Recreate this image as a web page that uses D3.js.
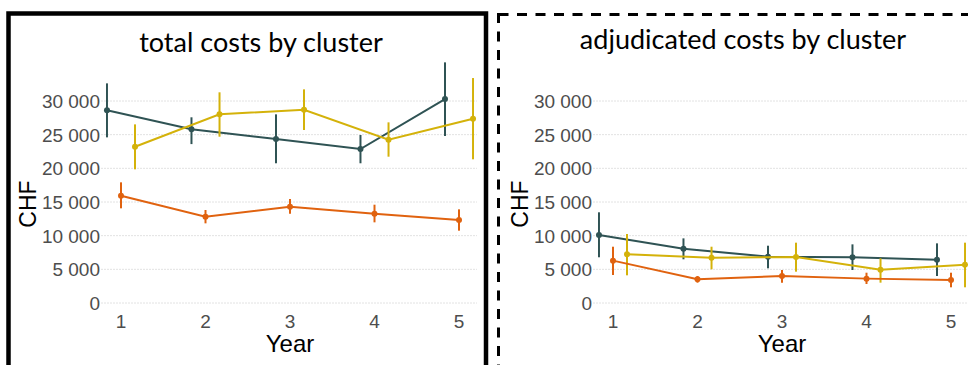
<!DOCTYPE html>
<html>
<head>
<meta charset="utf-8">
<script src="https://cdn.jsdelivr.net/npm/d3@7"></script>
<style>
    body { margin: 0; background: #fff; }
    svg { display: block; }
</style>
</head>
<body>
<svg id="chart"></svg>
<script>
// years on the x axis
const years = [1, 2, 3, 4, 5];
const yTicks = [0, 5000, 10000, 15000, 20000, 25000, 30000];

// total costs by cluster (mean, lower, upper)
const totalDark = [28620, 25800, 24350, 22870, 30290];
const totalDarkLo = [24600, 23600, 20750, 20750, 24800];
const totalDarkHi = [32620, 27580, 28020, 24950, 35740];

const totalOrange = [15940, 12820, 14300, 13260, 12330];
const totalOrangeLo = [14060, 11830, 13260, 11980, 10740];
const totalOrangeHi = [17920, 13810, 15440, 14600, 13910];

const totalYellow = [23210, 28020, 28710, 24250, 27370];
const totalYellowLo = [19850, 24700, 25690, 21730, 21340];
const totalYellowHi = [26530, 31290, 31730, 26830, 33410];

// adjudicated costs by cluster
const adjDark = [10100, 8060, 6880, 6790, 6440];
const adjDarkLo = [6790, 6490, 5150, 4900, 4010];
const adjDarkHi = [13470, 9600, 8510, 8710, 8860];

const adjOrange = [6290, 3520, 4010, 3620, 3420];
const adjOrangeLo = [4160, 3020, 3020, 2820, 2330];
const adjOrangeHi = [8360, 4010, 4900, 4500, 4500];

const adjYellow = [7230, 6730, 6830, 4950, 5690];
const adjYellowLo = [4110, 5000, 4650, 3020, 2330];
const adjYellowHi = [10250, 8360, 8960, 6630, 8960];

const colors = { dark: "#2f5354", orange: "#e0620f", yellow: "#d4b20a" };

const W = 968, H = 365;
const svg = d3.select("#chart").attr("width", W).attr("height", H);

const y = d3.scaleLinear().domain([0, 30000]).range([303, 101]);
const fmt = d => d3.format(",")(d).replace(",", " ");
const dodge = 0.166;

// panel frames
svg.append("rect")
    .attr("x", 8.5).attr("y", 13.5)
    .attr("width", 477.5).attr("height", 400)
    .attr("fill", "none").attr("stroke", "#000").attr("stroke-width", 4.5);

svg.append("rect")
    .attr("x", 498.5).attr("y", 14.5)
    .attr("width", 520).attr("height", 400)
    .attr("fill", "none").attr("stroke", "#000").attr("stroke-width", 3)
    .attr("stroke-dasharray", "10,8.5");

function drawPanel(dx, title, titleX, titleY, gridEnd, series) {
    const g = svg.append("g").attr("transform", `translate(${dx},0)`);
    const x = d3.scaleLinear().domain([0.787, 5.213]).range([103, 477]);

    // gridlines
    g.selectAll(".grid")
        .data(yTicks)
        .enter()
        .append("line")
        .attr("x1", 101)
        .attr("x2", gridEnd)
        .attr("y1", d => y(d))
        .attr("y2", d => y(d))
        .attr("stroke", "#e2e2e2")
        .attr("stroke-width", 1)
        .attr("stroke-dasharray", "2,1");

    // y tick labels
    g.selectAll(".ylab")
        .data(yTicks)
        .enter()
        .append("text")
        .attr("x", 100)
        .attr("y", d => y(d) + 7)
        .attr("text-anchor", "end")
        .attr("font-family", "Liberation Sans, Arial, sans-serif")
        .attr("font-size", 19)
        .attr("fill", "#4d4d4d")
        .text(fmt);

    // x tick labels
    g.selectAll(".xlab")
        .data(years)
        .enter()
        .append("text")
        .attr("x", d => x(d))
        .attr("y", 328)
        .attr("text-anchor", "middle")
        .attr("font-family", "Liberation Sans, Arial, sans-serif")
        .attr("font-size", 19)
        .attr("fill", "#4d4d4d")
        .text(d => d);

    // axis titles
    g.append("text")
        .attr("x", 290).attr("y", 352)
        .attr("text-anchor", "middle")
        .attr("font-family", "Liberation Sans, Arial, sans-serif")
        .attr("font-size", 24)
        .attr("fill", "#000")
        .text("Year");

    g.append("text")
        .attr("transform", `translate(36,204) rotate(-90)`)
        .attr("text-anchor", "middle")
        .attr("font-family", "Liberation Sans, Arial, sans-serif")
        .attr("font-size", 23)
        .attr("fill", "#000")
        .text("CHF");

    g.append("text")
        .attr("x", titleX - dx).attr("y", titleY)
        .attr("text-anchor", "middle")
        .attr("font-family", "Lato, sans-serif")
        .attr("font-size", 27)
        .attr("fill", "#000")
        .text(title);

    series.forEach(s => {
        const pts = years.map((yr, i) => ({ x: yr + s.off, v: s.mean[i], lo: s.lo[i], hi: s.hi[i] }));

        g.append("path")
            .datum(pts)
            .attr("fill", "none")
            .attr("stroke", s.color)
            .attr("stroke-width", 2)
            .attr("d", d3.line().x(d => x(d.x)).y(d => y(d.v)));

        g.selectAll(null)
            .data(pts)
            .enter()
            .append("line")
            .attr("x1", d => x(d.x))
            .attr("x2", d => x(d.x))
            .attr("y1", d => y(d.lo))
            .attr("y2", d => y(d.hi))
            .attr("stroke", s.color)
            .attr("stroke-width", 2);

        g.selectAll(null)
            .data(pts)
            .enter()
            .append("circle")
            .attr("cx", d => x(d.x))
            .attr("cy", d => y(d.v))
            .attr("r", 3)
            .attr("fill", s.color);
    });
}

drawPanel(0, "total costs by cluster", 261, 52, 477, [
    { color: colors.dark, off: -dodge, mean: totalDark, lo: totalDarkLo, hi: totalDarkHi },
    { color: colors.yellow, off: dodge, mean: totalYellow, lo: totalYellowLo, hi: totalYellowHi },
    { color: colors.orange, off: 0, mean: totalOrange, lo: totalOrangeLo, hi: totalOrangeHi }
]);

drawPanel(492, "adjudicated costs by cluster", 743, 49, 500, [
    { color: colors.dark, off: -dodge, mean: adjDark, lo: adjDarkLo, hi: adjDarkHi },
    { color: colors.yellow, off: dodge, mean: adjYellow, lo: adjYellowLo, hi: adjYellowHi },
    { color: colors.orange, off: 0, mean: adjOrange, lo: adjOrangeLo, hi: adjOrangeHi }
]);
</script>
</body>
</html>
